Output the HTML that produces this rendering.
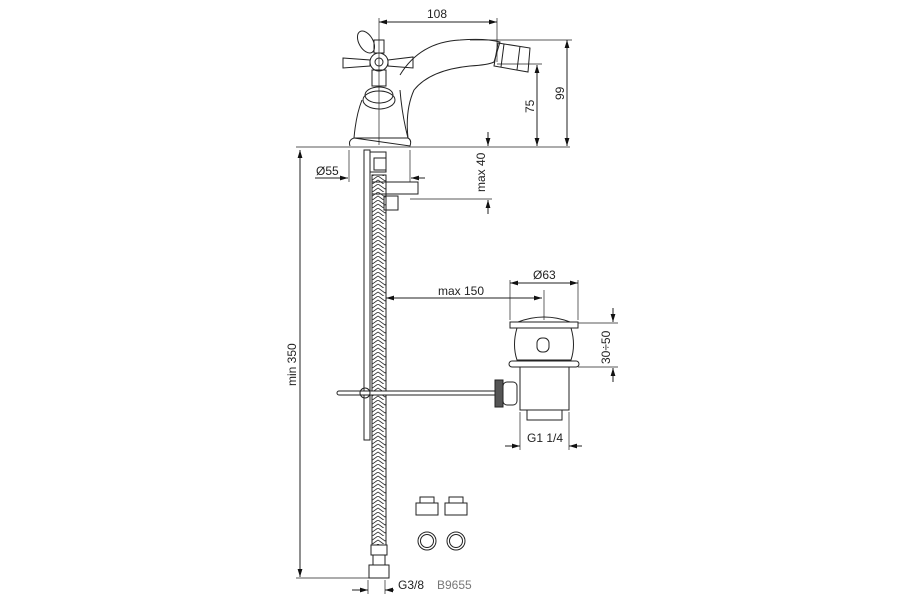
<!DOCTYPE html>
<html><head><style>body{margin:0;background:#fff}svg{display:block}text{font-family:"Liberation Sans",sans-serif;font-size:12px;fill:#222}</style></head><body>
<svg width="900" height="600" viewBox="0 0 900 600" xmlns="http://www.w3.org/2000/svg">
<defs>
<marker id="a" viewBox="0 0 10 10" refX="10" refY="5" markerWidth="8" markerHeight="8" orient="auto-start-reverse"><path d="M0,2 L10,5 L0,8z" fill="#111"/></marker>
<pattern id="br" width="14" height="8" patternUnits="userSpaceOnUse"><path d="M0,0 L7,5 L14,0 M0,4 L7,9 L14,4" stroke="#333" stroke-width="0.9" fill="none"/></pattern>
</defs>
<g stroke="#222" stroke-width="1" fill="none">
<line x1="379" y1="22" x2="497" y2="22" marker-start="url(#a)" marker-end="url(#a)"/>
<line x1="379" y1="18" x2="379" y2="145" stroke-width="0.7"/>
<line x1="497" y1="18" x2="497" y2="62" stroke-width="0.7"/>
<line x1="470" y1="40" x2="572" y2="40" stroke-width="0.7"/>
<line x1="497" y1="64" x2="542" y2="64" stroke-width="0.7"/>
<line x1="567" y1="40" x2="567" y2="146" marker-start="url(#a)" marker-end="url(#a)"/>
<line x1="537" y1="65" x2="537" y2="146" marker-start="url(#a)" marker-end="url(#a)"/>
<line x1="296" y1="147" x2="570" y2="147" stroke-width="0.8"/>
<line x1="300" y1="150" x2="300" y2="577" marker-start="url(#a)" marker-end="url(#a)"/>
<line x1="296" y1="578" x2="378" y2="578" stroke-width="0.7"/>
<line x1="488" y1="132" x2="488" y2="146" marker-end="url(#a)"/>
<line x1="488" y1="214" x2="488" y2="200" marker-end="url(#a)"/>
<line x1="410" y1="199" x2="492" y2="199" stroke-width="0.7"/>
<line x1="315" y1="178" x2="348" y2="178" marker-end="url(#a)"/>
<line x1="425" y1="178" x2="411" y2="178" marker-end="url(#a)"/>
<line x1="349" y1="150" x2="349" y2="182" stroke-width="0.7"/>
<line x1="410" y1="150" x2="410" y2="182" stroke-width="0.7"/>
<line x1="386" y1="298" x2="542" y2="298" marker-start="url(#a)" marker-end="url(#a)"/>
<line x1="544" y1="290" x2="544" y2="320" stroke-width="0.7"/>
<line x1="510" y1="283" x2="578" y2="283" marker-start="url(#a)" marker-end="url(#a)"/>
<line x1="510" y1="280" x2="510" y2="320" stroke-width="0.7"/>
<line x1="578" y1="280" x2="578" y2="320" stroke-width="0.7"/>
<line x1="578" y1="323" x2="618" y2="323" stroke-width="0.7"/>
<line x1="578" y1="367" x2="618" y2="367" stroke-width="0.7"/>
<line x1="613" y1="308" x2="613" y2="322" marker-end="url(#a)"/>
<line x1="613" y1="382" x2="613" y2="368" marker-end="url(#a)"/>
<line x1="505" y1="446" x2="520" y2="446" marker-end="url(#a)"/>
<line x1="582" y1="446" x2="569" y2="446" marker-end="url(#a)"/>
<line x1="520" y1="412" x2="520" y2="450" stroke-width="0.7"/>
<line x1="569" y1="412" x2="569" y2="450" stroke-width="0.7"/>
<line x1="352" y1="590" x2="368" y2="590" marker-end="url(#a)"/>
<line x1="394" y1="590" x2="385" y2="590" marker-end="url(#a)"/>
<line x1="368" y1="580" x2="368" y2="594" stroke-width="0.7"/>
<line x1="385" y1="580" x2="385" y2="594" stroke-width="0.7"/>
<!-- faucet body -->
<path d="M350,146 Q348,140 354,138 Q356,115 362,100"/>
<path d="M354,138 L408,138 Q412,140 410,146 Z"/>
<path d="M400,90 Q402,115 408,138"/>
<path d="M408,138 Q405,110 414,90 Q430,70 470,66 Q488,65 494,62 L500,42 Q485,38 460,40 Q420,42 400,75"/>
<path d="M498,43 L530,48 L528,72 L494,66 Z M504,44 L501,67 M520,46 L517,70"/>
<!-- handle -->
<ellipse cx="366" cy="42" rx="7" ry="12" transform="rotate(-30 366 42)"/>
<circle cx="379" cy="62" r="9"/><circle cx="379" cy="62" r="4"/>
<path d="M343,58 L370,60 L370,66 L343,68 Z M388,60 L413,57 L413,68 L388,66 Z"/>
<path d="M374,40 L384,40 L384,53 L374,53 Z M372,70 L386,70 L386,86 L372,86 Z"/>
<ellipse cx="379" cy="95" rx="14" ry="8"/><ellipse cx="379" cy="100" rx="16" ry="9"/>
<!-- under body -->
<rect x="364" y="150" width="6" height="290"/>
<rect x="370" y="152" width="16" height="20"/>
<rect x="372" y="182" width="46" height="12"/>
<rect x="384" y="196" width="14" height="14"/>
<rect x="374" y="158" width="12" height="12"/>
<rect x="372" y="175" width="14" height="370" fill="url(#br)"/>
<rect x="371" y="545" width="16" height="10" fill="#fff"/>
<rect x="373" y="555" width="12" height="10"/>
<rect x="369" y="565" width="20" height="13"/>
<!-- rod -->
<rect x="337" y="391" width="160" height="4" rx="2" fill="#fff"/>
<circle cx="365" cy="393" r="5"/>
<rect x="495" y="380" width="8" height="27" fill="#555"/>
<rect x="503" y="382" width="14" height="23" rx="4"/>
<!-- waste -->
<path d="M518,322 Q544,312 570,322"/>
<rect x="510" y="322" width="68" height="6"/>
<path d="M517,328 Q512,345 517,360 L571,360 Q576,345 571,328"/>
<rect x="537" y="338" width="12" height="14" rx="5"/>
<rect x="509" y="361" width="70" height="6" rx="3"/>
<rect x="520" y="367" width="49" height="43"/>
<rect x="527" y="410" width="35" height="10"/>
<!-- caps -->
<path d="M420,497 L434,497 L434,503 L420,503 Z M416,503 L438,503 L438,515 L416,515 Z"/>
<path d="M449,497 L463,497 L463,503 L449,503 Z M445,503 L467,503 L467,515 L445,515 Z"/>
<circle cx="427" cy="541" r="9"/><circle cx="427" cy="541" r="6.5"/>
<circle cx="456" cy="541" r="9"/><circle cx="456" cy="541" r="6.5"/>
</g>
<text x="427" y="18">108</text>
<text x="316" y="175">Ø55</text>
<text x="533" y="279">Ø63</text>
<text x="438" y="295">max 150</text>
<text x="527" y="442">G1 1/4</text>
<text x="398" y="589">G3/8</text>
<text x="437" y="589" style="fill:#777">B9655</text>
<text transform="translate(564,100) rotate(-90)">99</text>
<text transform="translate(534,113) rotate(-90)">75</text>
<text transform="translate(485,192) rotate(-90)">max 40</text>
<text transform="translate(296,386) rotate(-90)">min 350</text>
<text transform="translate(610,364) rotate(-90)">30÷50</text>
</svg>
</body></html>
